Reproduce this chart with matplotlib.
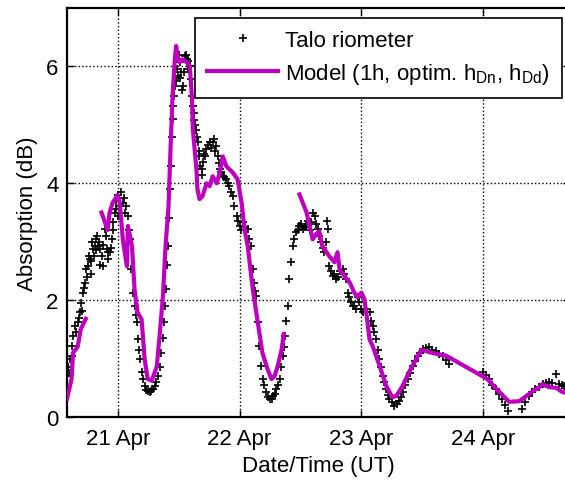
"""Talo riometer absorption vs model, 20-24 Apr."""

import numpy as np
import matplotlib
matplotlib.use('Agg')
import matplotlib.pyplot as plt
import matplotlib.dates as mdates

# hours after 20 Apr 00:00 UT, absorption in dB
rio_hours = [13.9, 14.6, 14.9, 15.2, 15.5, 16.1, 16.5, 16.9,
             17.2, 17.5, 17.8, 18.2, 18.5, 18.8, 19.1, 19.5, 19.8, 20.1, 20.5, 20.8,
             21.1, 21.4, 21.8, 22.1, 22.4, 22.8, 23.1, 23.4, 23.7, 24.1, 24.4, 25.0,
             25.7, 26.0, 26.4, 26.7, 27.0, 27.3, 27.7, 28.0, 28.3, 28.7, 29.3, 30.0,
             30.6, 31.3, 31.9, 32.6, 33.2, 33.6, 33.9, 34.2, 34.6, 34.9, 35.2, 35.9,
             36.2, 36.5, 36.8, 37.2, 37.6, 37.9, 38.5, 38.8, 39.1, 39.5, 39.8, 40.1,
             40.5, 40.8, 41.1, 41.4, 42.1, 42.7, 43.4, 43.7, 44.1, 44.7, 45.4, 46.0,
             46.7, 47.0, 47.4, 48.0, 48.6, 49.6, 50.3, 50.6, 51.3, 51.6, 51.9, 52.3,
             52.6, 53.3, 53.9, 54.6, 55.2, 55.9, 56.5, 56.9, 57.5, 57.8, 58.2, 58.5,
             59.2, 59.8, 60.5, 61.1, 62.1, 62.8, 63.4, 64.1, 64.7, 65.4, 65.7, 66.4,
             67.0, 68.3, 69.0, 69.3, 70.0, 70.6, 71.6, 72.3, 73.6, 74.2, 74.9, 75.5,
             76.2, 76.9, 77.5, 78.5, 79.5, 80.1, 81.1, 82.1, 83.1, 84.1, 85.4, 86.7,
             88.0, 89.3,
             95.9, 97.2, 98.5, 99.8, 100.8,
             103.7, 105.0, 106.3, 107.7, 109.0, 110.3, 111.0, 112.0,
             # second pass of readings
             14.2, 14.4, 15.0, 15.8, 16.3, 16.7,
             17.4, 17.9, 18.3, 18.7, 19.0, 19.3, 19.7, 20.0, 20.3, 20.6, 21.0, 21.6,
             22.0, 22.6, 23.0, 23.6, 24.0, 24.6, 25.3, 25.5, 26.2,
             27.5, 28.2, 28.9, 29.6, 30.3, 31.0, 31.6, 32.3, 32.9,
             33.4, 33.8, 34.1, 34.4, 34.8, 35.0, 35.5, 35.7,
             36.0, 36.3, 36.6, 37.0, 37.4, 37.8, 38.2,
             38.6, 39.0, 39.3, 39.6, 40.0, 40.3,
             40.6, 41.0, 41.7, 42.4, 42.9, 43.1, 43.9, 44.4, 45.0, 45.7, 46.3,
             47.7, 48.3, 49.0, 49.9, 50.9, 51.1,
             52.9, 53.6, 54.3, 54.9, 55.5, 56.2, 56.7, 57.2,
             58.8, 59.5, 60.1, 60.8, 61.5, 61.8, 62.4, 63.1, 63.7, 64.4, 65.0, 65.2,
             66.0, 66.7, 67.4, 67.8, 68.6, 69.6, 70.3, 71.0, 71.3, 72.0, 72.7, 73.2,
             73.9, 74.5, 75.2, 75.8, 76.5, 77.2, 78.0, 79.0, 79.8, 80.6, 81.6, 82.6,
             83.6, 84.7, 86.0, 87.3, 88.6,
             96.5, 97.8, 99.2, 100.3, 104.3, 105.6, 107.0, 108.3, 109.6, 111.5]
rio_db = [0.70, 0.99, 1.22, 1.38, 1.56, 1.62, 1.79, 1.81,
          2.13, 2.30, 2.53, 2.58, 2.70, 2.67, 2.87, 2.93, 3.04, 2.93, 2.87, 2.75,
          2.58, 3.21, 2.87, 2.82, 2.82, 3.04, 3.33, 3.50, 3.56, 3.44, 3.61, 3.67,
          3.61, 3.44, 3.04, 2.53, 2.13, 1.90, 1.62, 1.33, 0.99, 0.77, 0.53, 0.44,
          0.44, 0.53, 0.70, 1.10, 1.62, 2.19, 2.93, 3.90, 4.80, 5.32, 5.66, 5.83,
          6.07, 5.90, 5.66, 6.17, 6.12, 6.10, 5.78, 5.32, 5.09, 4.92, 4.70, 4.46,
          4.24, 4.36, 4.46, 4.58, 4.70, 4.70, 4.63, 4.46, 4.24, 4.12, 4.07, 3.95,
          3.78, 3.61, 3.44, 3.27, 3.33, 3.21, 2.93, 2.53, 2.07, 1.62, 1.22, 0.87,
          0.65, 0.43, 0.31, 0.36, 0.48, 0.65, 1.04, 1.38, 1.90, 2.36, 2.65, 2.93,
          3.16, 3.27, 3.21, 3.27, 3.33, 3.44, 3.21, 2.99, 2.82, 3.21, 2.58, 2.41,
          2.36, 2.53, 2.36, 2.13, 1.96, 1.90, 1.96, 1.79, 1.79, 1.56, 1.33, 0.99,
          0.70, 0.48, 0.31, 0.19, 0.27, 0.43, 0.65, 0.87, 1.04, 1.16, 1.20, 1.13,
          1.04, 0.90,
          0.77, 0.65, 0.48, 0.31, 0.10,
          0.14, 0.36, 0.48, 0.56, 0.60, 0.74, 0.56, 0.53,
          # second pass of readings
          0.85, 0.75, 1.05, 1.45, 1.70, 1.95,
          2.20, 2.40, 2.75, 2.45, 3.00, 2.75, 2.85, 3.10, 3.00, 2.60, 2.95, 3.10,
          2.70, 2.90, 3.20, 3.70, 3.80, 3.85, 3.75, 3.50, 3.20,
          1.75, 1.15, 0.65, 0.47, 0.42, 0.48, 0.60, 0.85, 1.35,
          1.90, 2.60, 3.40, 4.30, 5.10, 5.50, 5.75, 5.95,
          6.20, 5.80, 5.60, 5.90, 6.20, 5.95, 6.00,
          5.50, 5.20, 5.00, 4.80, 4.55, 4.30,
          4.15, 4.50, 4.65, 4.60, 4.75, 4.55, 4.35, 4.20, 4.10, 4.00, 3.85,
          3.35, 3.20, 3.25, 3.05, 2.30, 2.15,
          0.55, 0.35, 0.30, 0.40, 0.55, 0.85, 1.20, 1.65,
          3.05, 3.20, 3.30, 3.25, 3.35, 3.20, 3.50, 3.30, 3.10, 2.90, 3.00, 3.35,
          2.50, 2.45, 2.40, 2.50, 2.45, 2.05, 1.90, 1.85, 2.05, 1.85, 1.85, 1.80,
          1.65, 1.45, 1.15, 0.85, 0.60, 0.38, 0.25, 0.22, 0.35, 0.55, 0.75, 0.95,
          1.10, 1.18, 1.15, 1.08, 0.98,
          0.72, 0.55, 0.40, 0.20, 0.25, 0.42, 0.52, 0.58, 0.58, 0.55]

# model runs (three separate pieces)
model1_hours = [14.0, 14.9, 15.2, 16.1, 16.7, 17.7]
model1_db = [0.31, 0.65, 1.10, 1.20, 1.50, 1.68]

model2_hours = [20.8, 22.0, 22.4, 23.0, 24.0, 24.4, 25.0, 25.8, 26.0, 26.8, 27.3,
                27.9, 28.7, 29.3, 29.9, 30.7, 31.7, 32.3, 32.9, 33.4, 34.0, 34.4,
                34.8, 35.2, 35.5, 35.8, 36.2, 36.8, 37.6, 38.2, 38.6, 38.8, 39.5,
                39.7, 40.1, 40.7, 41.5, 42.1, 42.7, 43.5, 44.1, 44.7, 45.4, 46.6,
                47.6, 48.4, 49.0, 49.6, 50.6, 51.5, 52.5, 53.5, 54.3, 54.9, 55.5,
                56.3, 56.7]
model2_db = [3.50, 3.20, 3.50, 3.67, 3.80, 3.67, 3.04, 2.58, 3.27, 2.93, 2.19,
             1.79, 1.67, 0.99, 0.65, 0.62, 0.87, 1.45, 2.07, 2.90, 3.60, 4.60,
             5.50, 6.07, 6.35, 6.17, 6.07, 6.12, 6.07, 6.00, 5.49, 4.92, 4.24,
             3.90, 3.73, 3.78, 4.00, 3.95, 4.12, 4.00, 4.19, 4.46, 4.29, 4.19,
             4.07, 3.67, 3.20, 2.93, 2.19, 1.67, 1.10, 0.82, 0.65, 0.70, 0.87,
             1.16, 1.42]

model3_hours = [59.8, 61.2, 61.8, 62.4, 63.1, 63.7, 64.3, 65.7, 66.7, 67.3, 67.7,
                68.7, 69.7, 70.6, 71.2, 72.0, 72.6, 73.2, 73.6, 74.2, 75.6, 76.9,
                78.1, 78.9, 80.1, 81.4, 82.8, 83.8, 85.4, 86.8, 88.7, 95.8, 96.8,
                98.6, 101.1, 103.1, 104.5, 105.6, 107.0, 107.6, 109.0, 110.4, 111.5,
                112.5]
model3_db = [3.81, 3.50, 3.27, 3.04, 3.13, 3.18, 2.93, 2.75, 2.65, 2.82, 2.53,
             2.41, 2.30, 2.13, 2.05, 2.13, 2.02, 1.62, 1.33, 1.22, 0.87, 0.53,
             0.34, 0.36, 0.53, 0.77, 0.99, 1.15, 1.11, 1.08, 1.05, 0.70, 0.65,
             0.48, 0.26, 0.27, 0.36, 0.43, 0.51, 0.56, 0.51, 0.50, 0.43, 0.41]

BASE = np.datetime64('2012-04-20T00:00')
MAGENTA = '#c000c0'


def to_time(hours):
    return BASE + (np.array(hours) * 60).round().astype('timedelta64[m]')


def main():
    plt.rcParams['font.family'] = ['Liberation Sans', 'DejaVu Sans']
    plt.rcParams['mathtext.fontset'] = 'custom'
    plt.rcParams['mathtext.rm'] = 'Liberation Sans'
    plt.rcParams['mathtext.it'] = 'Liberation Sans'

    fig = plt.figure(figsize=(5.65, 4.81), dpi=100)
    ax = fig.add_axes([67 / 565, 63 / 481, (570 - 67) / 565, (418 - 9) / 481])

    ax.plot(to_time(rio_hours), rio_db, '+', color='k', ms=6, mew=1.2,
            label='Talo riometer', zorder=2)
    ax.plot(to_time(model1_hours), model1_db, '-', color=MAGENTA, lw=3, zorder=3,
            label=r'Model (1h, optim. h$_{\rm Dn}$, h$_{\rm Dd}$)')
    ax.plot(to_time(model2_hours), model2_db, '-', color=MAGENTA, lw=3, zorder=3)
    ax.plot(to_time(model3_hours), model3_db, '-', color=MAGENTA, lw=3, zorder=3)

    ax.set_xlim(to_time([14.0])[0], to_time([113.1])[0])
    ax.set_ylim(0, 7)
    ax.set_yticks([0, 2, 4, 6])
    ax.set_xticks(to_time([24, 48, 72, 96]))
    ax.xaxis.set_major_formatter(mdates.DateFormatter('%d %b'))

    ax.grid(True, color='k', linestyle=':', linewidth=1.0)
    ax.tick_params(direction='in', top=True, right=True, labelsize=16,
                   length=5, width=1)
    ax.tick_params(axis='x', pad=8)
    ax.tick_params(axis='y', pad=6)
    for s in ax.spines.values():
        s.set_linewidth(1.6)

    ax.set_xlabel('Date/Time (UT)', fontsize=16, labelpad=4)
    ax.set_ylabel('Absorption (dB)', fontsize=16, labelpad=6)

    leg = ax.legend(loc='upper right', bbox_to_anchor=(562 / 565, 1 - 19 / 481),
                    bbox_transform=fig.transFigure, fontsize=16, fancybox=False,
                    framealpha=1, edgecolor='k', handlelength=3.2,
                    handletextpad=0.3, borderpad=0.55, labelspacing=0.45,
                    borderaxespad=0)
    leg.get_frame().set_linewidth(1.2)

    fig.savefig('out.png', dpi=100)


if __name__ == '__main__':
    main()
